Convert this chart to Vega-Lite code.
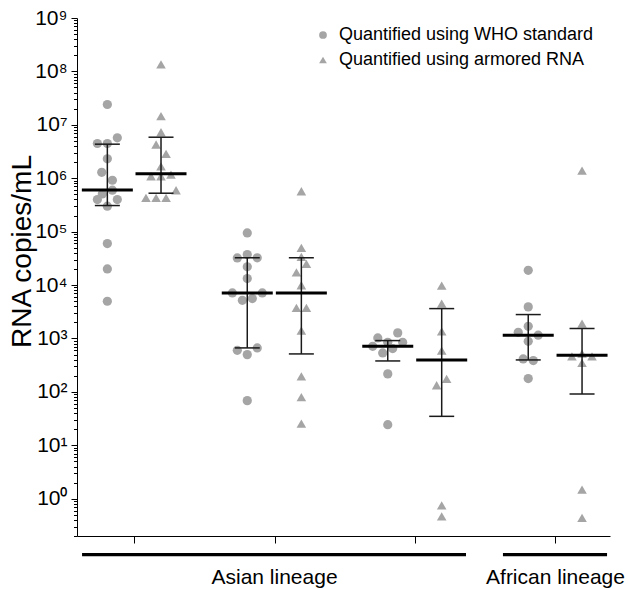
{
  "$schema": "https://vega.github.io/schema/vega-lite/v6.json",
  "width": 533,
  "height": 518,
  "autosize": "none",
  "padding": {"left": 77, "top": 18, "right": 18, "bottom": 53},
  "background": "white",
  "config": {"view": {"stroke": null}, "font": "Liberation Sans"},
  "datasets": {
    "points": [
      {"method": "Quantified using WHO standard", "x": 0.810, "copies": 2.4e7},
      {"method": "Quantified using WHO standard", "x": 0.739, "copies": 4.47e6},
      {"method": "Quantified using WHO standard", "x": 0.810, "copies": 4.47e6},
      {"method": "Quantified using WHO standard", "x": 0.881, "copies": 5.7e6},
      {"method": "Quantified using WHO standard", "x": 0.810, "copies": 2.31e6},
      {"method": "Quantified using WHO standard", "x": 0.770, "copies": 1.29e6},
      {"method": "Quantified using WHO standard", "x": 0.846, "copies": 9.16e5},
      {"method": "Quantified using WHO standard", "x": 0.774, "copies": 5.09e5},
      {"method": "Quantified using WHO standard", "x": 0.846, "copies": 5.96e5},
      {"method": "Quantified using WHO standard", "x": 0.739, "copies": 3.98e5},
      {"method": "Quantified using WHO standard", "x": 0.881, "copies": 3.98e5},
      {"method": "Quantified using WHO standard", "x": 0.810, "copies": 2.99e5},
      {"method": "Quantified using WHO standard", "x": 0.810, "copies": 5.97e4},
      {"method": "Quantified using WHO standard", "x": 0.810, "copies": 2.0e4},
      {"method": "Quantified using WHO standard", "x": 0.810, "copies": 4.97e3},
      {"method": "Quantified using armored RNA", "x": 1.192, "copies": 1.35e8},
      {"method": "Quantified using armored RNA", "x": 1.192, "copies": 1.45e7},
      {"method": "Quantified using armored RNA", "x": 1.192, "copies": 7.26e6},
      {"method": "Quantified using armored RNA", "x": 1.157, "copies": 4.28e6},
      {"method": "Quantified using armored RNA", "x": 1.228, "copies": 2.86e6},
      {"method": "Quantified using armored RNA", "x": 1.192, "copies": 1.67e6},
      {"method": "Quantified using armored RNA", "x": 1.121, "copies": 1.09e6},
      {"method": "Quantified using armored RNA", "x": 1.192, "copies": 1.09e6},
      {"method": "Quantified using armored RNA", "x": 1.263, "copies": 1.17e6},
      {"method": "Quantified using armored RNA", "x": 1.299, "copies": 5.96e5},
      {"method": "Quantified using armored RNA", "x": 1.085, "copies": 4.29e5},
      {"method": "Quantified using armored RNA", "x": 1.157, "copies": 4.29e5},
      {"method": "Quantified using armored RNA", "x": 1.228, "copies": 4.29e5},
      {"method": "Quantified using WHO standard", "x": 1.806, "copies": 9.46e4},
      {"method": "Quantified using WHO standard", "x": 1.735, "copies": 3.22e4},
      {"method": "Quantified using WHO standard", "x": 1.806, "copies": 3.72e4},
      {"method": "Quantified using WHO standard", "x": 1.877, "copies": 3.24e4},
      {"method": "Quantified using WHO standard", "x": 1.806, "copies": 2.19e4},
      {"method": "Quantified using WHO standard", "x": 1.806, "copies": 1.32e4},
      {"method": "Quantified using WHO standard", "x": 1.700, "copies": 7130},
      {"method": "Quantified using WHO standard", "x": 1.913, "copies": 7130},
      {"method": "Quantified using WHO standard", "x": 1.771, "copies": 5180},
      {"method": "Quantified using WHO standard", "x": 1.842, "copies": 5570},
      {"method": "Quantified using WHO standard", "x": 1.735, "copies": 600},
      {"method": "Quantified using WHO standard", "x": 1.877, "copies": 665},
      {"method": "Quantified using WHO standard", "x": 1.806, "copies": 498},
      {"method": "Quantified using WHO standard", "x": 1.806, "copies": 68.5},
      {"method": "Quantified using armored RNA", "x": 2.191, "copies": 5.7e5},
      {"method": "Quantified using armored RNA", "x": 2.191, "copies": 4.97e4},
      {"method": "Quantified using armored RNA", "x": 2.191, "copies": 3.37e4},
      {"method": "Quantified using armored RNA", "x": 2.227, "copies": 2.49e4},
      {"method": "Quantified using armored RNA", "x": 2.156, "copies": 1.73e4},
      {"method": "Quantified using armored RNA", "x": 2.191, "copies": 9900},
      {"method": "Quantified using armored RNA", "x": 2.156, "copies": 3730},
      {"method": "Quantified using armored RNA", "x": 2.227, "copies": 3730},
      {"method": "Quantified using armored RNA", "x": 2.191, "copies": 1400},
      {"method": "Quantified using armored RNA", "x": 2.191, "copies": 195},
      {"method": "Quantified using armored RNA", "x": 2.191, "copies": 80},
      {"method": "Quantified using armored RNA", "x": 2.191, "copies": 25.4},
      {"method": "Quantified using WHO standard", "x": 2.735, "copies": 1023},
      {"method": "Quantified using WHO standard", "x": 2.877, "copies": 1271},
      {"method": "Quantified using WHO standard", "x": 2.699, "copies": 713},
      {"method": "Quantified using WHO standard", "x": 2.806, "copies": 847},
      {"method": "Quantified using WHO standard", "x": 2.912, "copies": 847},
      {"method": "Quantified using WHO standard", "x": 2.770, "copies": 536},
      {"method": "Quantified using WHO standard", "x": 2.841, "copies": 646},
      {"method": "Quantified using WHO standard", "x": 2.806, "copies": 217},
      {"method": "Quantified using WHO standard", "x": 2.806, "copies": 24.3},
      {"method": "Quantified using armored RNA", "x": 3.190, "copies": 9770},
      {"method": "Quantified using armored RNA", "x": 3.190, "copies": 4500},
      {"method": "Quantified using armored RNA", "x": 3.190, "copies": 1360},
      {"method": "Quantified using armored RNA", "x": 3.190, "copies": 592},
      {"method": "Quantified using armored RNA", "x": 3.154, "copies": 133},
      {"method": "Quantified using armored RNA", "x": 3.225, "copies": 175},
      {"method": "Quantified using armored RNA", "x": 3.190, "copies": 0.75},
      {"method": "Quantified using armored RNA", "x": 3.190, "copies": 0.467},
      {"method": "Quantified using WHO standard", "x": 3.806, "copies": 1.89e4},
      {"method": "Quantified using WHO standard", "x": 3.806, "copies": 3900},
      {"method": "Quantified using WHO standard", "x": 3.806, "copies": 1690},
      {"method": "Quantified using WHO standard", "x": 3.735, "copies": 1300},
      {"method": "Quantified using WHO standard", "x": 3.877, "copies": 1150},
      {"method": "Quantified using WHO standard", "x": 3.806, "copies": 885},
      {"method": "Quantified using WHO standard", "x": 3.770, "copies": 414},
      {"method": "Quantified using WHO standard", "x": 3.842, "copies": 385},
      {"method": "Quantified using WHO standard", "x": 3.806, "copies": 177},
      {"method": "Quantified using armored RNA", "x": 4.189, "copies": 1.39e6},
      {"method": "Quantified using armored RNA", "x": 4.189, "copies": 1900},
      {"method": "Quantified using armored RNA", "x": 4.117, "copies": 463},
      {"method": "Quantified using armored RNA", "x": 4.189, "copies": 520},
      {"method": "Quantified using armored RNA", "x": 4.260, "copies": 463},
      {"method": "Quantified using armored RNA", "x": 4.189, "copies": 348},
      {"method": "Quantified using armored RNA", "x": 4.189, "copies": 1.48},
      {"method": "Quantified using armored RNA", "x": 4.189, "copies": 0.436}
    ],
    "summary": [
      {"x": 0.810, "median": 6.05e5, "lo": 3.08e5, "hi": 4.34e6},
      {"x": 1.192, "median": 1.21e6, "lo": 5.24e5, "hi": 5.86e6},
      {"x": 1.806, "median": 7130, "lo": 665, "hi": 3.24e4},
      {"x": 2.191, "median": 7130, "lo": 513, "hi": 3.24e4},
      {"x": 2.806, "median": 713, "lo": 379, "hi": 912},
      {"x": 3.190, "median": 396, "lo": 34.8, "hi": 3620},
      {"x": 3.806, "median": 1150, "lo": 396, "hi": 2800},
      {"x": 4.189, "median": 483, "lo": 91.4, "hi": 1530}
    ],
    "lineages": [
      {"lineage": "Asian lineage", "start": 0.63, "end": 3.363, "mid": 2.0, "bar": 0.0893, "labelY": 0.033},
      {"lineage": "African lineage", "start": 3.626, "end": 4.367, "mid": 4.0, "bar": 0.0893, "labelY": 0.033}
    ]
  },
  "layer": [
    {
      "data": {"name": "points"},
      "transform": [{"filter": "datum.method === 'Quantified using WHO standard'"}],
      "mark": {"type": "point", "filled": true, "opacity": 1, "size": 85, "color": "#a5a5a5", "strokeWidth": 0},
      "encoding": {
        "x": {
          "field": "x", "type": "quantitative",
          "scale": {"domain": [0.594, 4.388], "nice": false, "zero": false},
          "axis": {"values": [1, 2, 3, 4], "labels": false, "tickSize": 7, "title": null, "grid": false, "domainColor": "#000", "tickColor": "#000"}
        },
        "y": {
          "field": "copies", "type": "quantitative",
          "scale": {"type": "log", "domain": [0.2, 1000000000], "nice": false},
          "axis": {
            "title": "RNA copies/mL",
            "values": [0.2,0.3,0.4,0.5,0.6,0.7,0.8,0.9,1,2,3,4,5,6,7,8,9,10,20,30,40,50,60,70,80,90,100,200,300,400,500,600,700,800,900,1000,2000,3000,4000,5000,6000,7000,8000,9000,10000,20000,30000,40000,50000,60000,70000,80000,90000,100000,200000,300000,400000,500000,600000,700000,800000,900000,1000000,2000000,3000000,4000000,5000000,6000000,7000000,8000000,9000000,10000000,20000000,30000000,40000000,50000000,60000000,70000000,80000000,90000000,100000000,200000000,300000000,400000000,500000000,600000000,700000000,800000000,900000000,1000000000],
            "labelExpr": "abs(log(datum.value)/LN10 - round(log(datum.value)/LN10)) < 0.001 ? '10' + ['⁰','¹','²','³','⁴','⁵','⁶','⁷','⁸','⁹'][round(log(datum.value)/LN10)] : ''",
            "tickSize": {"condition": {"test": "abs(log(datum.value)/LN10 - round(log(datum.value)/LN10)) < 0.001", "value": 6}, "value": 3.5},
            "labelFontSize": 21,
            "labelFont": "Liberation Sans",
            "labelColor": "#000",
            "labelPadding": 4,
            "labelOverlap": false,
            "labelFlush": false,
            "domainColor": "#000",
            "tickColor": "#000",
            "grid": false,
            "titleFont": "Liberation Sans",
            "titleFontSize": 28,
            "titleFontWeight": "normal",
            "titleColor": "#000",
            "titleAngle": -90,
            "titleX": -47,
            "titleY": 233,
            "titleAlign": "center",
            "titleBaseline": "alphabetic"
          }
        },
        "shape": {
          "field": "method", "type": "nominal",
          "scale": {"domain": ["Quantified using WHO standard", "Quantified using armored RNA"], "range": ["circle", "triangle-up"]},
          "legend": {
            "title": null, "orient": "none", "legendX": 237, "legendY": 8,
            "labelFontSize": 18, "labelFont": "Liberation Sans", "labelColor": "#000", "labelLimit": 0,
            "symbolSize": 60, "symbolFillColor": "#a5a5a5", "symbolStrokeColor": "#a5a5a5", "symbolStrokeWidth": 0,
            "rowPadding": 7, "labelOffset": 7
          }
        }
      }
    },
    {
      "data": {"name": "points"},
      "transform": [{"filter": "datum.method === 'Quantified using armored RNA'"}],
      "mark": {"type": "point", "filled": true, "opacity": 1, "size": 92, "color": "#a5a5a5", "strokeWidth": 0},
      "encoding": {
        "x": {"field": "x", "type": "quantitative"},
        "y": {"field": "copies", "type": "quantitative"},
        "shape": {"field": "method", "type": "nominal"}
      }
    },
    {
      "data": {"name": "summary"},
      "mark": {"type": "rule", "color": "#1a1a1a", "strokeWidth": 1.5, "opacity": 1},
      "encoding": {
        "x": {"field": "x", "type": "quantitative"},
        "y": {"field": "lo", "type": "quantitative"},
        "y2": {"field": "hi"}
      }
    },
    {
      "data": {"name": "summary"},
      "mark": {"type": "tick", "orient": "horizontal", "size": 25, "thickness": 1.5, "color": "#1a1a1a", "opacity": 1},
      "encoding": {
        "x": {"field": "x", "type": "quantitative"},
        "y": {"field": "lo", "type": "quantitative"}
      }
    },
    {
      "data": {"name": "summary"},
      "mark": {"type": "tick", "orient": "horizontal", "size": 25, "thickness": 1.5, "color": "#1a1a1a", "opacity": 1},
      "encoding": {
        "x": {"field": "x", "type": "quantitative"},
        "y": {"field": "hi", "type": "quantitative"}
      }
    },
    {
      "data": {"name": "summary"},
      "mark": {"type": "tick", "orient": "horizontal", "size": 51, "thickness": 3, "color": "#000", "opacity": 1},
      "encoding": {
        "x": {"field": "x", "type": "quantitative"},
        "y": {"field": "median", "type": "quantitative"}
      }
    },
    {
      "data": {"name": "lineages"},
      "mark": {"type": "rule", "color": "#000", "strokeWidth": 3.3},
      "encoding": {
        "x": {"field": "start", "type": "quantitative"},
        "x2": {"field": "end"},
        "y": {"field": "bar", "type": "quantitative"}
      }
    },
    {
      "data": {"name": "lineages"},
      "mark": {"type": "text", "font": "Liberation Sans", "fontSize": 21, "align": "center", "baseline": "middle", "color": "#000"},
      "encoding": {
        "x": {"field": "mid", "type": "quantitative"},
        "y": {"field": "labelY", "type": "quantitative"},
        "text": {"field": "lineage"}
      }
    }
  ]
}
